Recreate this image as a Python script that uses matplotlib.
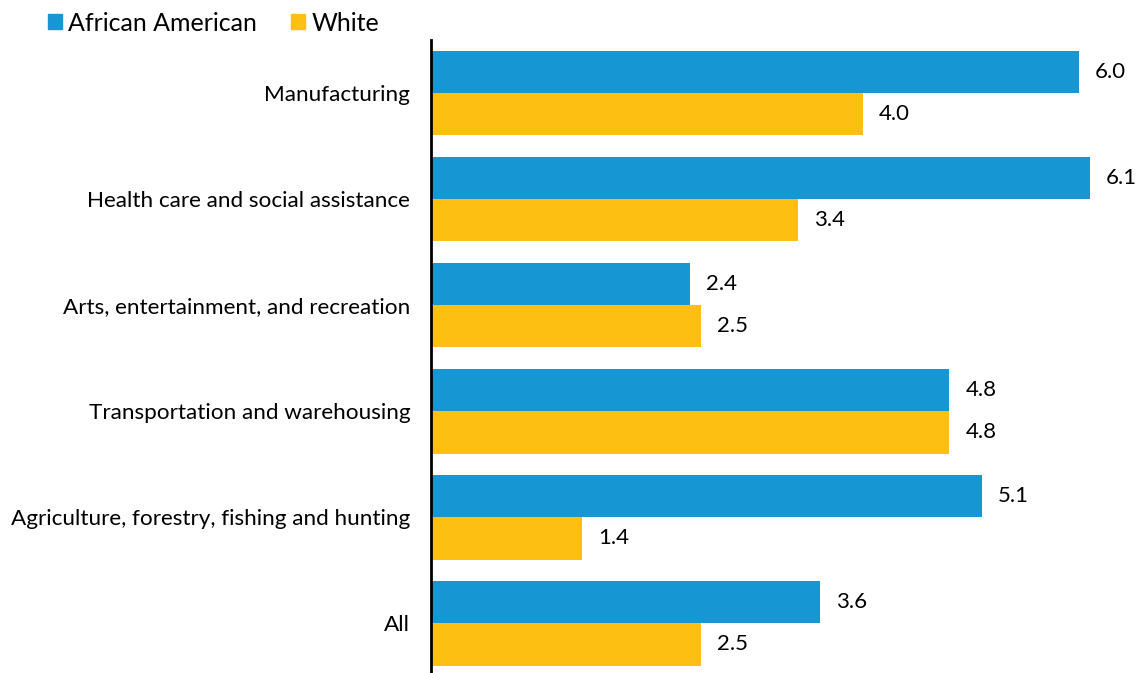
import matplotlib.pyplot as plt
from matplotlib.patches import Patch
import numpy as np

plt.rcParams['font.family'] = ['Lato', 'DejaVu Sans']

industries = ['Manufacturing', 'Health care and social assistance',
              'Arts, entertainment, and recreation', 'Transportation and warehousing',
              'Agriculture, forestry, fishing and hunting', 'All']
african_american = [6.0, 6.1, 2.4, 4.8, 5.1, 3.6]
white = [4.0, 3.4, 2.5, 4.8, 1.4, 2.5]

BLUE = '#1696d2'
YELLOW = '#fdbf11'

W, H = 1141, 673
fig = plt.figure(figsize=(W / 100, H / 100), dpi=100)
# axes placed in pixel terms: left spine at x=431, top at y=40
ax = fig.add_axes([431 / W, 0 / H, (W - 431) / W, 633 / H])

y = np.arange(len(industries))
h = 0.4
ax.barh(y - h / 2, african_american, height=h, color=BLUE)
ax.barh(y + h / 2, white, height=h, color=YELLOW)

for yi, v in zip(y, african_american):
    ax.text(v + 0.15, yi - h / 2, f'{v:.1f}', va='center', ha='left', fontsize=16)
for yi, v in zip(y, white):
    ax.text(v + 0.15, yi + h / 2, f'{v:.1f}', va='center', ha='left', fontsize=16)

ax.set_xlim(0, (W - 431) / 108)
ax.set_ylim(len(industries) - 0.53, -0.5)
ax.set_yticks(y)
ax.set_yticklabels(industries, fontsize=16.2)
ax.tick_params(axis='y', length=0, pad=15)
ax.set_xticks([])
for s in ['top', 'right', 'bottom']:
    ax.spines[s].set_visible(False)
ax.spines['left'].set_linewidth(2)
ax.spines['left'].set_color('black')

handles = [Patch(color=BLUE, label='African American'), Patch(color=YELLOW, label='White')]
fig.legend(handles=handles, loc='upper left', bbox_to_anchor=(33 / W, 1.005), ncol=2,
           frameon=False, fontsize=18, handlelength=0.56, handleheight=0.56,
           handletextpad=0.25, columnspacing=1.35, borderaxespad=0.2)

fig.savefig('out.png', dpi=100)
